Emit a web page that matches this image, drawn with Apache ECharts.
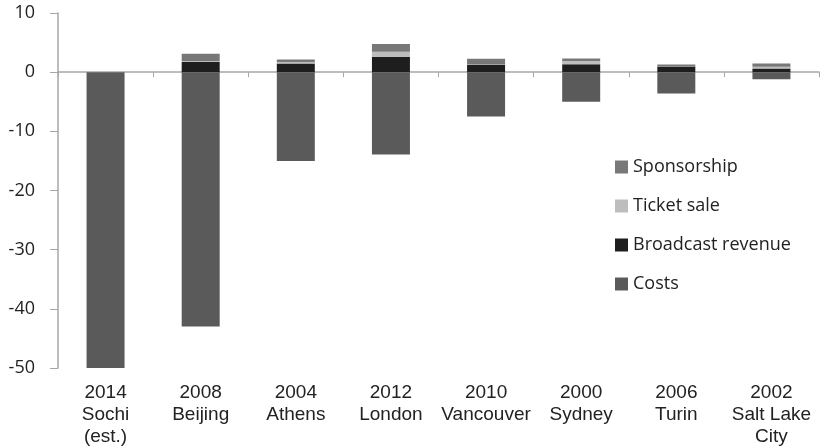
<!DOCTYPE html>
<html>
<head>
<meta charset="utf-8">
<script src="https://cdn.jsdelivr.net/npm/echarts@6/dist/echarts.min.js"></script>
<style>
  html, body { margin: 0; padding: 0; background: #fff; }
  #main { width: 820px; height: 448px; }
</style>
</head>
<body>
<div id="main"></div>
<script>
// Olympic games: costs vs revenue (billion)
var categories = [
  '2014\nSochi\n(est.)', '2008\nBeijing', '2004\nAthens', '2012\nLondon',
  '2010\nVancouver', '2000\nSydney', '2006\nTurin', '2002\nSalt Lake\nCity'
];
var broadcast = [0, 1.7, 1.45, 2.6, 1.3, 1.35, 0.95, 0.6];
var ticketSale = [0, 0.2, 0.25, 0.85, 0.1, 0.55, 0.05, 0.3];
var sponsorship = [0, 1.2, 0.45, 1.3, 0.85, 0.4, 0.3, 0.55];
var costs = [-50, -43, -15, -13.9, -7.5, -5, -3.6, -1.2];
var yTicks = { min: -50, max: 10, interval: 10 };

var chart = echarts.init(document.getElementById('main'));

var gray = '#a6a6a6';

chart.setOption({
  animation: false,
  grid: { left: 58, right: 1, top: 13, bottom: 79, containLabel: false },
  legend: {
    orient: 'vertical',
    left: 610,
    top: 152,
    itemWidth: 13,
    itemHeight: 13,
    itemGap: 19,
    icon: 'rect',
    data: ['Sponsorship', 'Ticket sale', 'Broadcast revenue', 'Costs'],
    textStyle: { fontFamily: 'Open Sans', fontSize: 18, color: '#222', lineHeight: 20, padding: [0, 0, 0, 0] }
  },
  xAxis: [
    {
      type: 'category',
      data: categories,
      axisLine: { onZero: true, lineStyle: { color: gray, width: 1.5 } },
      axisTick: { show: true, length: 5, lineStyle: { color: gray } },
      axisLabel: { show: false }
    },
    {
      type: 'category',
      data: categories,
      position: 'bottom',
      axisLine: { show: false, onZero: false },
      axisTick: { show: false },
      axisLabel: {
        interval: 0,
        margin: 14,
        fontFamily: 'Liberation Sans',
        fontSize: 19,
        lineHeight: 22,
        color: '#222'
      }
    }
  ],
  yAxis: {
    type: 'value',
    min: yTicks.min,
    max: yTicks.max,
    interval: yTicks.interval,
    axisLine: { show: true, lineStyle: { color: gray, width: 1.5 } },
    axisTick: { show: true, length: 8, lineStyle: { color: gray } },
    splitLine: { show: false },
    axisLabel: { margin: 23, fontFamily: 'Open Sans', fontSize: 18, color: '#222' }
  },
  series: [
    { name: 'Broadcast revenue', type: 'bar', stack: 'a', barWidth: 38, data: broadcast, itemStyle: { color: '#1e1e1e' } },
    { name: 'Ticket sale', type: 'bar', stack: 'a', barWidth: 38, data: ticketSale, itemStyle: { color: '#bdbdbd' } },
    { name: 'Sponsorship', type: 'bar', stack: 'a', barWidth: 38, data: sponsorship, itemStyle: { color: '#787878' } },
    { name: 'Costs', type: 'bar', stack: 'a', barWidth: 38, data: costs, itemStyle: { color: '#5a5a5a' } }
  ]
});
</script>
</body>
</html>
